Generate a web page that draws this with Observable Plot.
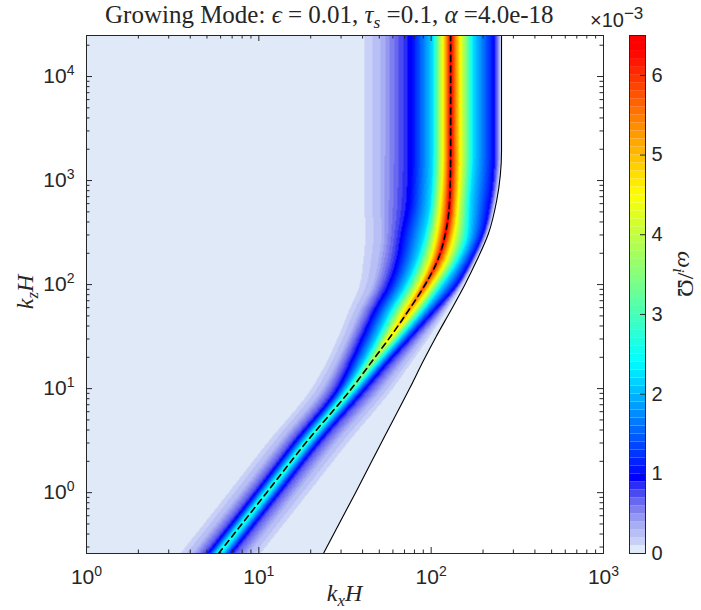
<!DOCTYPE html>
<html><head><meta charset="utf-8">
<script src="https://cdn.jsdelivr.net/npm/d3@7"></script>
<script src="https://cdn.jsdelivr.net/npm/@observablehq/plot@0.6"></script>
<style>
body{margin:0;background:#fff;}
#wrap{position:relative;width:701px;height:610px;overflow:hidden;background:#fff;}
#wrap svg{position:absolute;top:0;}
.lbl{position:absolute;font-family:"Liberation Serif","DejaVu Serif",serif;color:#262626;white-space:nowrap;line-height:1;}
.lbl sub{font-size:0.7em;vertical-align:baseline;position:relative;top:0.28em;}
.sans{font-family:"Liberation Sans",Arial,sans-serif;}
.sans sup{font-size:0.85em;vertical-align:baseline;position:relative;top:-0.5em;}
</style></head><body><div id="wrap"></div>
<script>
// ---- data (growth rate in units of 1e-3) ----
const kzRows     = [0.26, 1, 3.17, 10, 18.6, 31.7, 56.4, 98, 171, 310, 643, 1950, 25000];
const ridgeKx    = [5.84, 11.1, 19.2, 34.5, 45.7, 58.1, 73.9, 91.6, 109, 121, 128, 129.7, 129.7];
const peakRate   = [2.6, 2.8, 3.0, 3.4, 4.0, 4.6, 5.3, 5.9, 6.2, 6.4, 6.45, 6.45, 6.45];
const boundaryKx = [23.7, 36.4, 52.2, 74.9, 90.3, 107, 130, 156, 184, 215, 240, 256, 256];
const levels     = [0.1, 0.3, 0.7, 1.0, 2.2, 4.4];
const leftKx = [
  [3.51, 4.12, 4.78, 5.11, 5.61, null],
  [6.67, 7.83, 9.07, 9.69, 10.65, null],
  [11.5, 13.4, 15.5, 16.55, 18.4, null],
  [20.2, 23.4, 26.8, 29.0, 32.3, null],
  [25.0, 28.6, 32.3, 35.0, 41.1, null],
  [29.0, 33.2, 37.4, 40.5, 48.9, 56.6],
  [33.4, 38.5, 44.0, 47.6, 58.1, 69.2],
  [38.4, 45.7, 52.2, 57.4, 71.0, 84.5],
  [40.5, 49.5, 58.1, 64.7, 82.3, 97.9],
  [41.6, 51.5, 61.3, 69.2, 91.6, 107],
  [41.0, 50.8, 63.8, 75.9, 99.2, 113],
  [41.0, 50.8, 64.7, 78.0, 101.9, 116.4],
  [41.0, 50.8, 64.7, 78.0, 101.9, 116.4]
];
const rightKx = [
  [10.2, 8.71, 7.32, 6.85, 6.16, null],
  [19.4, 16.5, 13.9, 13.0, 11.7, null],
  [33.6, 28.6, 24.1, 22.5, 20.2, null],
  [59.7, 52.2, 44.5, 41.1, 36.9, null],
  [78.0, 70.1, 61.3, 56.6, 50.8, null],
  [97.9, 90.3, 81.2, 75.9, 67.3, 59.7],
  [122.9, 118, 110.4, 103.3, 90.3, 79.1],
  [152, 148, 144, 139, 116, 100.5],
  [181, 179, 174, 169, 144, 123],
  [212, 210, 204, 199, 165, 137],
  [237, 233, 227, 218, 169, 144],
  [253, 250, 240, 230, 176, 148.3],
  [253, 250, 240, 230, 176, 148.3]
];
// colormap stops
const cmapValues = [0.05, 0.15, 0.25, 0.35, 0.45, 0.55, 0.65, 0.75, 0.85, 0.95, 2.4, 3.45, 4.5, 5.45, 6.3, 6.5];
const cmapColors = ["#dfe9f7", "#c8d0f7", "#b8bff5", "#a7aef3", "#9597f1", "#7f80f0", "#6767f0", "#4a4af2",
                    "#2c2cf7", "#0000ff", "#00ffff", "#80ff80", "#ffff00", "#ff8000", "#ff0000", "#ff0000"];
const cbarTicks = [0, 1, 2, 3, 4, 5, 6];
const xMajor = [1, 10, 100, 1000];
const yMajor = [1, 10, 100, 1000, 10000];
const xDomain = [1, 1000];
const yDomain = [0.26, 24800];
const cbarMax = 6.5;

// ---- derived ----
const cmap = d3.scaleLinear().domain(cmapValues).range(cmapColors).interpolate(d3.interpolateRgb).clamp(true);
const nBins = Math.round(cbarMax * 10);
const thresholds = d3.range(1, nBins).map(i => i / 10);
const binColors = d3.range(nBins).map(i => cmap((i + 0.5) / 10));
const bins = d3.range(nBins).map(i => ({lo: i / 10, hi: (i + 1) / 10, mid: (i + 0.5) / 10}));
const rows = kzRows.map((kz, i) => ({kz, ridge: ridgeKx[i], bound: boundaryKx[i]}));

const L = Math.log10;
const rowLz = kzRows.map(L);

// monotone cubic (same scheme as d3.curveMonotoneY) between the read rows
function monotone(xs, ys) {
  const n = xs.length, h = [], s = [], m = new Array(n);
  const sgn = v => v < 0 ? -1 : 1;
  for (let i = 0; i < n - 1; ++i) { h[i] = xs[i + 1] - xs[i]; s[i] = (ys[i + 1] - ys[i]) / h[i]; }
  for (let i = 1; i < n - 1; ++i) {
    const p = (s[i - 1] * h[i] + s[i] * h[i - 1]) / (h[i - 1] + h[i]);
    m[i] = (sgn(s[i - 1]) + sgn(s[i])) * Math.min(Math.abs(s[i - 1]), Math.abs(s[i]), 0.5 * Math.abs(p)) || 0;
  }
  m[0] = (3 * s[0] - m[1]) / 2;
  m[n - 1] = (3 * s[n - 2] - m[n - 2]) / 2;
  return x => {
    let i = d3.bisectRight(xs, x) - 1;
    i = Math.max(0, Math.min(n - 2, i));
    const t = Math.max(0, Math.min(1, (x - xs[i]) / h[i])), t2 = t * t, t3 = t2 * t;
    return (2 * t3 - 3 * t2 + 1) * ys[i] + (t3 - 2 * t2 + t) * h[i] * m[i]
         + (-2 * t3 + 3 * t2) * ys[i + 1] + (t3 - t2) * h[i] * m[i + 1];
  };
}
const ridgeF = monotone(rowLz, ridgeKx.map(L));
const boundF = monotone(rowLz, boundaryKx.map(L));
const peakF = monotone(rowLz, peakRate);
const leftF = levels.map((_, j) => monotone(rowLz, leftKx.map((r, i) => L(r[j] ?? ridgeKx[i]))));
const rightF = levels.map((_, j) => monotone(rowLz, rightKx.map((r, i) => L(r[j] ?? ridgeKx[i]))));

let cacheKz = null, cache = null;
function profile(kz) {
  if (kz === cacheKz) return cache;
  const lz = L(kz);
  const ridge = ridgeF(lz), bound = boundF(lz), peak = peakF(lz);
  const xs = [0], vs = [0.05];
  levels.forEach((lev, j) => {
    if (lev >= peak) return;
    xs.push(Math.max(xs[xs.length - 1], Math.min(ridge, leftF[j](lz)))); vs.push(lev);
  });
  xs.push(ridge); vs.push(peak);
  for (let j = levels.length - 1; j >= 0; --j) {
    const lev = levels[j];
    if (lev >= peak) continue;
    xs.push(Math.max(xs[xs.length - 1], rightF[j](lz))); vs.push(lev);
  }
  xs.push(Math.max(xs[xs.length - 1], bound)); vs.push(0.02);
  cacheKz = kz; cache = {xs, vs, bound};
  return cache;
}
function rate(kx, kz) {
  const {xs, vs, bound} = profile(kz);
  const lx = L(kx);
  if (lx > bound) return NaN;
  if (lx <= xs[0]) return vs[0];
  for (let k = 1; k < xs.length; ++k) {
    if (lx <= xs[k]) {
      const d = xs[k] - xs[k - 1];
      const u = d > 0 ? (lx - xs[k - 1]) / d : 1;
      return vs[k - 1] + (vs[k] - vs[k - 1]) * u;
    }
  }
  return 0.02;
}

const ink = "#262626";
const plotH = 610 - 35 - 57, plotW = 701 - 86 - 98;
const xTicksAll = d3.scaleLog().domain(xDomain).ticks();
const yTicksAll = d3.scaleLog().domain(yDomain).ticks();
const xMinor = xTicksAll.filter(d => !xMajor.includes(d));
const yMinor = yTicksAll.filter(d => !yMajor.includes(d));
const fmt = d => "10^" + Math.round(Math.log10(d));
const majLen = 6, minLen = 3.5;

const main = Plot.plot({
  width: 701, height: 610,
  marginLeft: 86, marginRight: 98, marginTop: 35, marginBottom: 57,
  x: {type: "log", domain: xDomain},
  y: {type: "log", domain: yDomain},
  color: {type: "threshold", domain: thresholds, range: binColors},
  style: {fontFamily: "Liberation Sans, Arial, sans-serif", fontSize: "21px", color: ink, background: "transparent"},
  marks: [
    Plot.raster({fill: rate, x1: xDomain[0], x2: xDomain[1], y1: yDomain[0], y2: yDomain[1], pixelSize: 1}),
    Plot.line(rows, {x: "bound", y: "kz", stroke: "black", strokeWidth: 1.1, curve: "monotone-y", clip: true}),
    Plot.line(rows, {x: "ridge", y: "kz", stroke: "black", strokeWidth: 1.6, strokeDasharray: "6,4.5", curve: "monotone-y", clip: true}),
    Plot.tickX(xMajor, {x: d => d, insetTop: plotH - majLen, stroke: ink}),
    Plot.tickX(xMinor, {x: d => d, insetTop: plotH - minLen, stroke: ink}),
    Plot.tickX(xMajor, {x: d => d, insetBottom: plotH - majLen, stroke: ink}),
    Plot.tickX(xMinor, {x: d => d, insetBottom: plotH - minLen, stroke: ink}),
    Plot.tickY(yMajor, {y: d => d, insetRight: plotW - majLen, stroke: ink}),
    Plot.tickY(yMinor, {y: d => d, insetRight: plotW - minLen, stroke: ink}),
    Plot.tickY(yMajor, {y: d => d, insetLeft: plotW - majLen, stroke: ink}),
    Plot.tickY(yMinor, {y: d => d, insetLeft: plotW - minLen, stroke: ink}),
    Plot.frame({stroke: ink, strokeWidth: 1}),
    Plot.axisX({ticks: xMajor, tickSize: 0, tickPadding: 16, tickFormat: fmt, fontSize: 21, label: null}),
    Plot.axisY({ticks: yMajor, tickSize: 0, tickPadding: 12, tickFormat: fmt, fontSize: 21, label: null})
  ]
});

const cb = Plot.plot({
  width: 80, height: 610,
  marginLeft: 9, marginRight: 55, marginTop: 35, marginBottom: 57,
  y: {domain: [0, cbarMax]},
  color: {type: "threshold", domain: thresholds, range: binColors},
  style: {fontFamily: "Liberation Sans, Arial, sans-serif", fontSize: "20px", color: ink, background: "transparent"},
  marks: [
    Plot.barY(bins, {y1: "lo", y2: "hi", fill: "mid"}),
    Plot.tickY(cbarTicks, {y: d => d, insetLeft: 16 - 5, stroke: ink}),
    Plot.frame({stroke: ink, strokeWidth: 1}),
    Plot.axisY({anchor: "right", ticks: cbarTicks, tickSize: 0, tickPadding: 6, tickFormat: d3.format("d"), fontSize: 20, label: null})
  ]
});

// superscript exponents on log tick labels
const NS = "http://www.w3.org/2000/svg";
main.querySelectorAll("text").forEach(t => {
  const m = t.textContent.match(/^10\^(-?\d+)$/);
  if (!m) return;
  t.textContent = "10";
  const s = document.createElementNS(NS, "tspan");
  s.setAttribute("dy", "-8");
  s.setAttribute("font-size", "14");
  s.textContent = m[1];
  t.appendChild(s);
});

const wrap = document.getElementById("wrap");
main.style.left = "0px";
cb.style.left = "620px";
wrap.appendChild(main);
wrap.appendChild(cb);

function addLabel(html, css, cls = "lbl") {
  const d = document.createElement("div");
  d.className = cls;
  d.innerHTML = html;
  Object.assign(d.style, css);
  wrap.appendChild(d);
  return d;
}
addLabel('Growing Mode: <i>ϵ</i> = 0.01, <i>τ</i><sub><i>s</i></sub> =0.1, <i>α</i> =4.0e-18',
  {left: "105px", top: "2px", fontSize: "25px"});
addLabel('<i>k</i><sub><i>x</i></sub><i>H</i>', {left: "0px", width: "689px", textAlign: "center", top: "581px", fontSize: "24px"});
addLabel('<i>k</i><sub><i>z</i></sub><i>H</i>', {left: "-5px", width: "60px", textAlign: "center", top: "280px", fontSize: "24px", transform: "rotate(-90deg)", transformOrigin: "center"});
addLabel('<i>ω</i><sub><i>i</i></sub>/Ω', {left: "656px", width: "60px", textAlign: "center", top: "262px", fontSize: "24px", transform: "rotate(90deg)", transformOrigin: "center"});
addLabel('×10<sup>−3</sup>', {left: "590px", top: "10px", fontSize: "20px"}, "lbl sans");
</script></body></html>
